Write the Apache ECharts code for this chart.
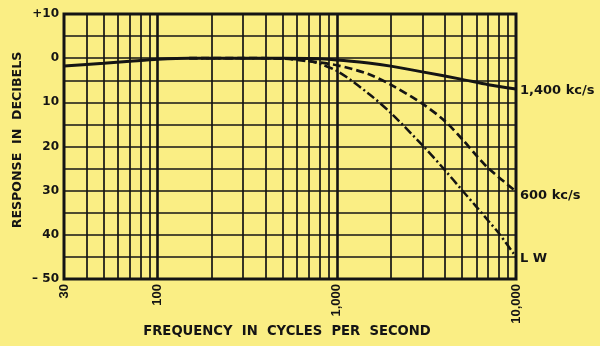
<!DOCTYPE html>
<html>
<head>
<meta charset="utf-8">
<script src="https://cdn.jsdelivr.net/npm/echarts@6/dist/echarts.min.js"></script>
<style>
html,body{margin:0;padding:0;background:#FAEE84;}
#chart{width:600px;height:346px;}
</style>
</head>
<body>
<div id="chart"></div>
<script>
// ---- data ----
var f1400 = [30, 50, 70, 100, 150, 300, 500, 700, 1000, 1500, 2000, 3000, 5000, 7000, 10000];
var v1400 = [-1.8, -1.15, -0.7, -0.25, 0, 0, 0, -0.1, -0.4, -1.1, -1.8, -3.1, -4.8, -6.0, -7.0];

var f600 = [150, 300, 500, 700, 1000, 1500, 2000, 3000, 4000, 5000, 6000, 7000, 10000];
var v600 = [0, 0, -0.1, -0.7, -1.6, -3.6, -6.0, -10.3, -14.2, -18.3, -22.0, -24.9, -30.2];

var fLW = [150, 300, 500, 700, 1000, 1500, 2000, 3000, 4000, 5000, 6000, 7000, 8000, 10000];
var vLW = [0, 0, -0.1, -0.6, -2.9, -8.0, -12.4, -19.7, -25.3, -29.9, -33.6, -36.8, -39.6, -45.0];

var seriesNames = ['1,400 kc/s', '600 kc/s', 'L W'];

var gridFreqs = [30, 40, 50, 60, 70, 80, 90, 100, 200, 300, 400, 500, 600, 700, 800, 900,
                 1000, 2000, 3000, 4000, 5000, 6000, 7000, 8000, 9000, 10000];
var majorFreqs = [100, 1000];

var xTickValues = [30, 100, 1000, 10000];
var xTickText = ['30', '100', '1,000', '10,000'];
var yTickValues = [10, 0, -10, -20, -30, -40, -50];
var yTickText = ['+10', '0', '10', '20', '30', '40', '\u2013 50'];

var xTitle = 'FREQUENCY  IN  CYCLES  PER  SECOND';
var yTitle = 'RESPONSE  IN  DECIBELS';

function pairs(fs, vs) { return fs.map(function (f, i) { return [f, vs[i]]; }); }

var ink = '#141414';
var fontL = '"Liberation Sans", Arial, sans-serif';
var fontD = '"DejaVu Sans", sans-serif';

var chart = echarts.init(document.getElementById('chart'), null, {renderer: 'canvas'});

var vLines = gridFreqs.map(function (f) {
  return {
    xAxis: f,
    lineStyle: {width: majorFreqs.indexOf(f) >= 0 ? 2.6 : 1.7, color: ink, type: 'solid'}
  };
});

function endLbl(dy) {
  return {show: true, formatter: '{a}', color: ink, fontFamily: fontD, fontWeight: 'bold', fontSize: 13,
          distance: 4, offset: [0, dy]};
}

chart.setOption({
  backgroundColor: '#FAEE84',
  animation: false,
  grid: {left: 64, right: 84, top: 14, bottom: 67, outerBoundsMode: 'none', containLabel: false,
         show: true, borderColor: ink, borderWidth: 3, backgroundColor: 'transparent'},
  graphic: [
    {type: 'text', x: 287, y: 332, silent: true,
     style: {text: xTitle, fill: ink, font: 'bold 13.2px "DejaVu Sans", sans-serif', align: 'center', verticalAlign: 'middle'}},
    {type: 'text', x: 18, y: 140, rotation: Math.PI / 2, silent: true,
     style: {text: yTitle, fill: ink, font: 'bold 12.6px "DejaVu Sans", sans-serif', align: 'center', verticalAlign: 'middle'}}
  ],
  xAxis: {
    type: 'log', logBase: 10, min: 30, max: 10000,
    axisLine: {show: false},
    axisTick: {show: false},
    splitLine: {show: false},
    minorSplitLine: {show: false},
    axisLabel: {
      customValues: xTickValues,
      rotate: 90, margin: 5,
      color: ink, fontFamily: fontL, fontWeight: 'bold', fontSize: 13,
      formatter: function (v) {
        var i = xTickValues.indexOf(Math.round(v));
        return i >= 0 ? xTickText[i] : '';
      }
    }
  },
  yAxis: {
    type: 'value', min: -50, max: 10, interval: 5,
    axisLine: {show: false},
    axisTick: {show: false},
    splitLine: {show: true, lineStyle: {color: ink, width: 1.7}},
    axisLabel: {
      color: ink, fontFamily: fontD, fontWeight: 'bold', fontSize: 12, margin: 5,
      formatter: function (v) {
        var i = yTickValues.indexOf(v);
        return i >= 0 ? yTickText[i] : '';
      }
    }
  },
  series: [
    {
      name: seriesNames[0], type: 'line', smooth: 0.3, symbol: 'none',
      data: pairs(f1400, v1400),
      lineStyle: {color: ink, width: 3, type: 'solid'},
      endLabel: endLbl(2),
      markLine: {silent: true, symbol: 'none', label: {show: false}, animation: false, data: vLines},
      z: 3
    },
    {
      name: seriesNames[1], type: 'line', smooth: 0.3, symbol: 'none',
      data: pairs(f600, v600),
      lineStyle: {color: ink, width: 2.7, type: [8, 4]},
      endLabel: endLbl(4),
      z: 3
    },
    {
      name: seriesNames[2], type: 'line', smooth: 0.3, symbol: 'none',
      data: pairs(fLW, vLW),
      lineStyle: {color: ink, width: 2.5, type: [9, 3, 2, 3]},
      endLabel: endLbl(2),
      z: 3
    }
  ]
});
</script>
</body>
</html>
